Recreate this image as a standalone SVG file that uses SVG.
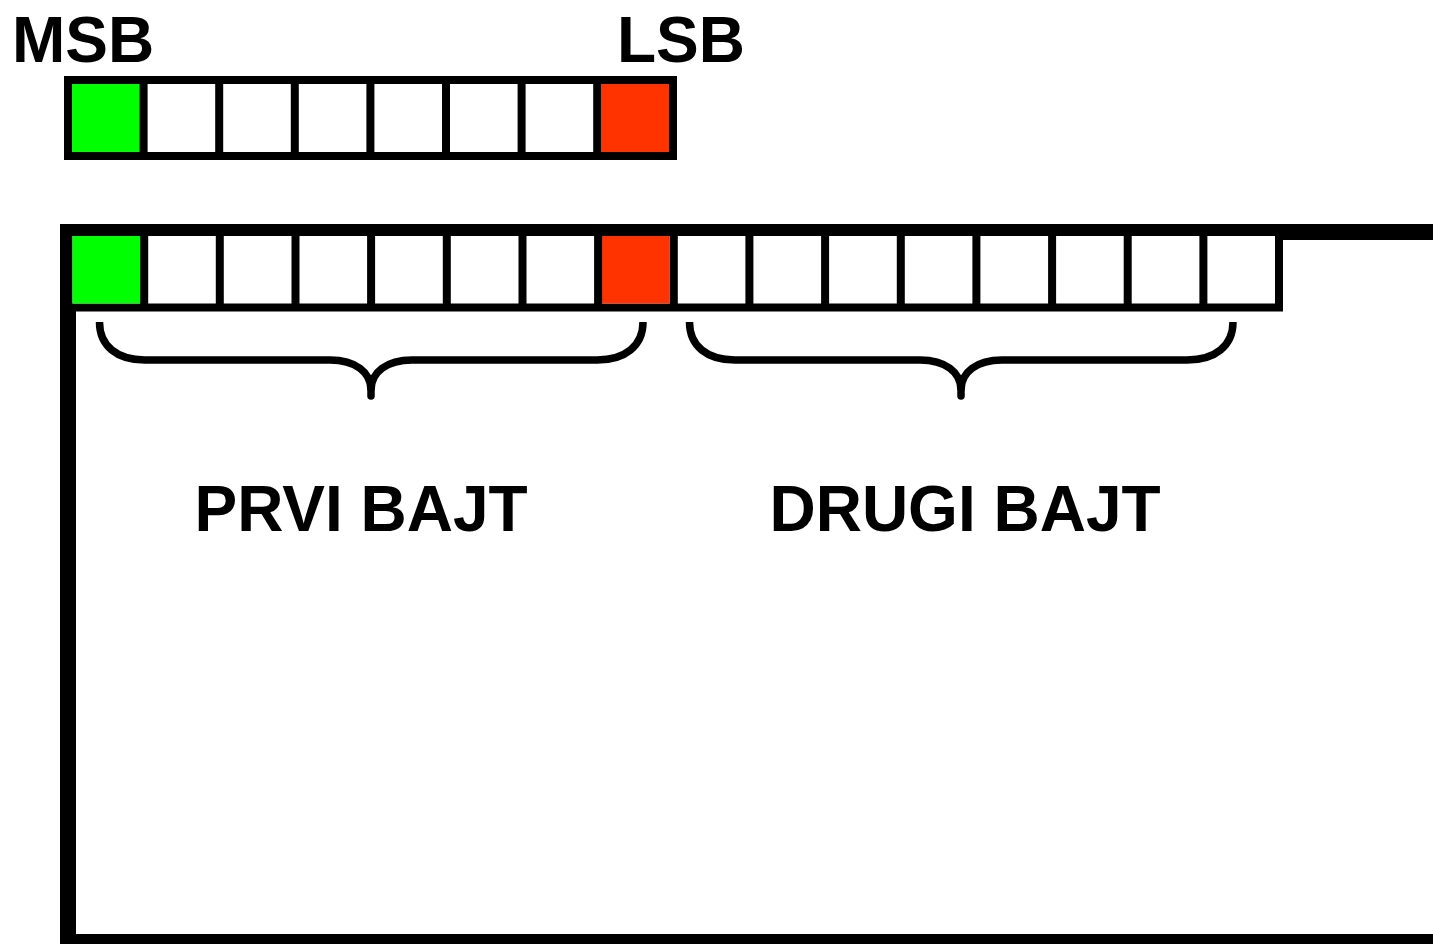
<svg xmlns="http://www.w3.org/2000/svg" width="1433" height="944" viewBox="0 0 1433 944">
<style>
.lbl{font-family:"Liberation Sans",Arial,sans-serif;font-weight:bold;font-size:64px;fill:#000}
.cell{stroke:#000;stroke-width:8;fill:#fff}
.div{stroke:#000;stroke-width:8}
.brace{fill:none;stroke:#000;stroke-width:7.5;stroke-linejoin:round}
.tip{fill:none;stroke:#000;stroke-width:7.5;stroke-linecap:round}
</style>
<rect width="1433" height="944" fill="#fff"/>
<g id="labels">
<text class="lbl" x="12" y="62">MSB</text>
<text class="lbl" x="617" y="62">LSB</text>
</g>
<g id="byte-top">
<rect class="cell" x="68" y="80" width="605" height="76"/>
<rect x="72" y="84" width="71.6" height="68" fill="#00ff00"/>
<rect x="601.2" y="84" width="67.8" height="68" fill="#ff3300"/>
<path class="div" d="M143.6,80V156M219.2,80V156M294.8,80V156M370.4,80V156M446,80V156M521.6,80V156M597.2,80V156"/>
</g>
<g id="frame">
<path d="M1445,232H68V942H1445" fill="none" stroke="#000" stroke-width="16"/>
</g>
<g id="word">
<rect class="cell" x="68.5" y="232" width="1210.5" height="75.5"/>
<rect x="72.5" y="236" width="71.7" height="67.5" fill="#00ff00"/>
<rect x="598" y="236" width="71.7" height="67.5" fill="#ff3300"/>
<path class="div" d="M144.2,232V307.5M219.8,232V307.5M295.5,232V307.5M371.1,232V307.5M446.8,232V307.5M522.5,232V307.5M598.1,232V307.5M673.8,232V307.5M749.4,232V307.5M825.1,232V307.5M900.8,232V307.5M976.4,232V307.5M1052.1,232V307.5M1127.7,232V307.5M1203.4,232V307.5"/>
</g>
<g id="connectors">
<path class="brace" d="M99.5,322C99.5,346 117,360 145,360L330,360C355,360 371,372 371,390M371,390C371,372 387,360 412,360L597,360C625,360 643,346 643,322"/>
<path class="tip" d="M371,388V396"/>
<path class="brace" d="M689.5,322C689.5,346 707,360 735,360L920,360C945,360 961,372 961,390M961,390C961,372 977,360 1002,360L1187,360C1215,360 1233,346 1233,322"/>
<path class="tip" d="M961,388V396"/>
</g>
<g id="byte-labels">
<text class="lbl" x="361" y="531" text-anchor="middle">PRVI BAJT</text>
<text class="lbl" x="965" y="531" text-anchor="middle">DRUGI BAJT</text>
</g>
</svg>
